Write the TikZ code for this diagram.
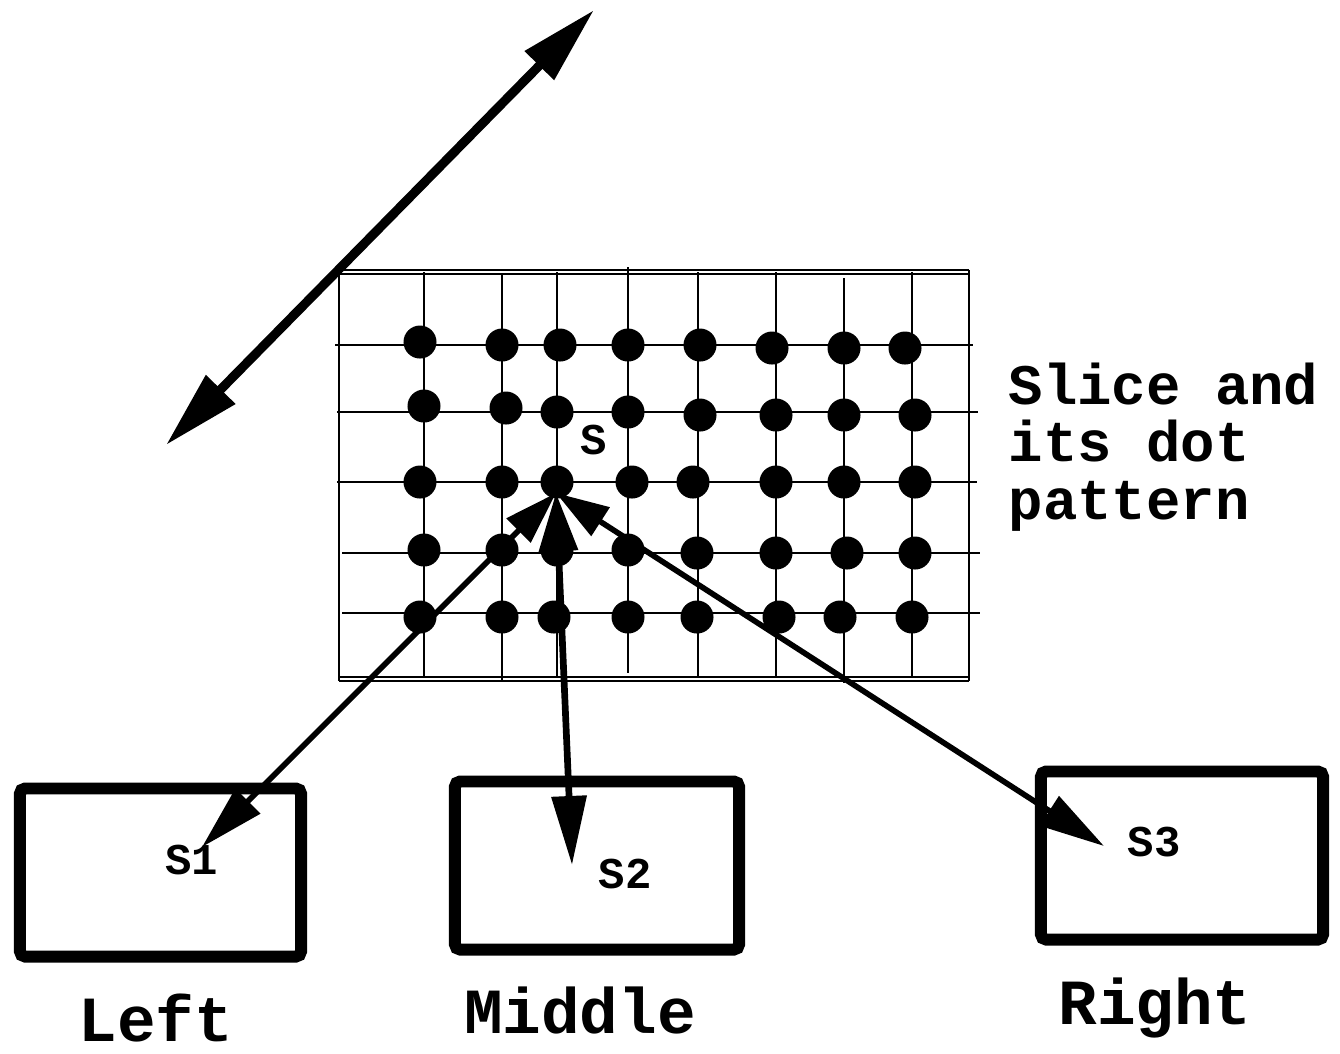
\documentclass[tikz,border=0pt]{standalone}
\usepackage{fontspec}
\setmonofont{Liberation Mono}
\usetikzlibrary{arrows.meta}

\tikzset{
  gridline/.style={line width=0.7pt,gridcolor},
  slicebox/.style={draw=boxcolor,line width=3.4pt,rounded corners=1.5pt,minimum height=1.68cm,inner sep=0pt},
  pointer/.style={line width=1.6pt,arrowcolor,{Triangle[length=5.3mm,width=3.3mm]}-{Triangle[length=6.5mm,width=3.4mm]}},
  smalllabel/.style={font=\ttfamily\bfseries\fontsize{12.5}{15}\selectfont},
  biglabel/.style={font=\ttfamily\bfseries\fontsize{18.3}{22}\selectfont,anchor=base},
}

\begin{document}
\begin{tikzpicture}[x=0.01cm,y=-0.01cm]
\definecolor{gridcolor}{RGB}{0,0,0}
\definecolor{dotcolor}{RGB}{0,0,0}
\definecolor{boxcolor}{RGB}{0,0,0}
\definecolor{arrowcolor}{RGB}{0,0,0}
\useasboundingbox (0,0) rectangle (1340,1053);
% slice frame
\draw [gridline] (339,270) -- (969,270);
\draw [gridline] (339,274) -- (969,274);
\draw [gridline] (339,677) -- (969,677);
\draw [gridline] (339,681) -- (969,681);
\draw [gridline] (339,270) -- (339,681);
\draw [gridline] (969,270) -- (969,681);
% grid
\draw [gridline] (424,272) -- (424,678);
\draw [gridline] (502,275) -- (502,680);
\draw [gridline] (557,272) -- (557,678);
\draw [gridline] (628,267) -- (628,673);
\draw [gridline] (698,272) -- (698,678);
\draw [gridline] (776,272) -- (776,678);
\draw [gridline] (844,278) -- (844,683);
\draw [gridline] (912,272) -- (912,678);
\draw [gridline] (335,345) -- (973,345);
\draw [gridline] (337,412) -- (978,412);
\draw [gridline] (337,482) -- (977,482);
\draw [gridline] (342,553) -- (980,553);
\draw [gridline] (342,613) -- (980,613);
% dot pattern
\fill [dotcolor] (420,342) circle [radius=0.165cm] (502,345) circle [radius=0.165cm]
  (560,345) circle [radius=0.165cm] (628,345) circle [radius=0.165cm]
  (700,345) circle [radius=0.165cm] (772,348) circle [radius=0.165cm]
  (844,348) circle [radius=0.165cm] (905,348) circle [radius=0.165cm];
\fill [dotcolor] (424,406) circle [radius=0.165cm] (506,408) circle [radius=0.165cm]
  (557,412) circle [radius=0.165cm] (628,412) circle [radius=0.165cm]
  (700,415) circle [radius=0.165cm] (776,415) circle [radius=0.165cm]
  (844,415) circle [radius=0.165cm] (915,415) circle [radius=0.165cm];
\fill [dotcolor] (420,482) circle [radius=0.165cm] (502,482) circle [radius=0.165cm]
  (557,482) circle [radius=0.165cm] (632,482) circle [radius=0.165cm]
  (693,482) circle [radius=0.165cm] (776,482) circle [radius=0.165cm]
  (844,482) circle [radius=0.165cm] (915,482) circle [radius=0.165cm];
\fill [dotcolor] (424,550) circle [radius=0.165cm] (502,550) circle [radius=0.165cm]
  (557,550) circle [radius=0.165cm] (628,550) circle [radius=0.165cm]
  (697,553) circle [radius=0.165cm] (776,553) circle [radius=0.165cm]
  (847,553) circle [radius=0.165cm] (915,553) circle [radius=0.165cm];
\fill [dotcolor] (420,617) circle [radius=0.165cm] (502,617) circle [radius=0.165cm]
  (554,617) circle [radius=0.165cm] (628,617) circle [radius=0.165cm]
  (697,617) circle [radius=0.165cm] (779,617) circle [radius=0.165cm]
  (840,617) circle [radius=0.165cm] (912,617) circle [radius=0.165cm];
\node [smalllabel] (s) at (594,440) {S};
\node [font=\ttfamily\bfseries\fontsize{16.3}{16.3}\selectfont,align=left,anchor=base west,inner sep=0pt] (slice) at (1008,519) {Slice and\\its dot\\pattern};
% slices
\node [slicebox,minimum width=2.81cm] (left) at (160.5,872.5) {};
\node [slicebox,minimum width=2.84cm] (middle) at (597,865.5) {};
\node [slicebox,minimum width=2.82cm] (right) at (1182,855.5) {};
\node [smalllabel] (s1) at (192,860) {S1};
\node [smalllabel] (s2) at (625,874) {S2};
\node [smalllabel] (s3) at (1154,842) {S3};
\node [biglabel] (leftname) at (156,1041) {Left};
\node [biglabel] (middlename) at (580,1033) {Middle};
\node [biglabel] (rightname) at (1155,1024) {Right};
% arrows
\coordinate (stip) at (556,493);
\coordinate (t1) at (202,847);
\coordinate (t2) at (572,865);
\coordinate (t3) at (1104,846);
\coordinate (axis a) at (166,445);
\coordinate (axis b) at (594,10);
\draw [arrowcolor,line width=2.6pt,{Triangle[length=7.8mm,width=3.9mm]}-{Triangle[length=7.8mm,width=3.9mm]}] (axis a) -- (axis b);
\draw [pointer] (stip) -- (t1);
\draw [pointer,line width=1.9pt,{Triangle[length=5.8mm,width=3.8mm]}-{Triangle[length=6.9mm,width=3.4mm]}] (stip) -- (t2);
\draw [pointer] (stip) -- (t3);
\end{tikzpicture}
\end{document}
